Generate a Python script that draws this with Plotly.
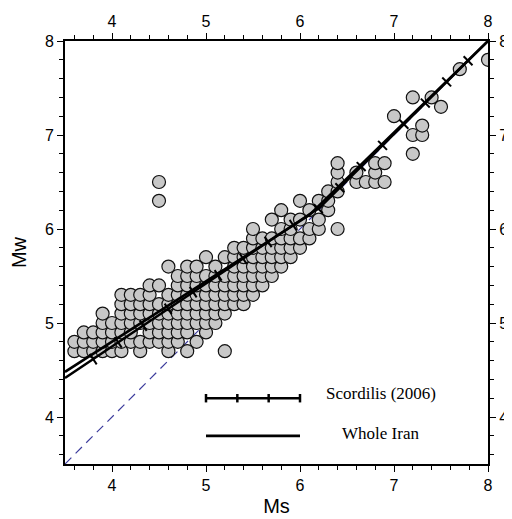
import numpy as np
import plotly.graph_objects as go

# ---- data (Mw rows, Ms values on each row) ----
mw_rows = [4.7, 4.8, 4.9, 5.0, 5.1, 5.2, 5.3, 5.4, 5.5, 5.6, 5.7, 5.8, 5.9,
           6.0, 6.1, 6.2, 6.3, 6.4, 6.5, 6.6, 6.7, 6.8, 7.0, 7.1, 7.2, 7.3,
           7.4, 7.7, 7.8]
ms_by_row = [
    [3.6, 3.7, 3.8, 3.9, 4.0, 4.1, 4.3, 4.6, 4.8, 5.2],
    [3.6, 3.7, 3.8, 3.9, 4.0, 4.1, 4.2, 4.3, 4.4, 4.5, 4.6, 4.7, 4.9],
    [3.7, 3.8, 3.9, 4.0, 4.1, 4.2, 4.4, 4.5, 4.6, 4.7, 4.8, 5.0],
    [3.9, 4.0, 4.1, 4.2, 4.3, 4.4, 4.5, 4.6, 4.7, 4.8, 4.9, 5.0, 5.1],
    [3.9, 4.1, 4.2, 4.3, 4.4, 4.5, 4.6, 4.7, 4.8, 4.9, 5.0, 5.1, 5.2],
    [4.1, 4.2, 4.3, 4.4, 4.5, 4.6, 4.7, 4.8, 4.9, 5.0, 5.1, 5.2, 5.3, 5.4],
    [4.1, 4.2, 4.3, 4.4, 4.6, 4.7, 4.8, 4.9, 5.0, 5.1, 5.2, 5.3, 5.4, 5.5],
    [4.4, 4.5, 4.7, 4.8, 4.9, 5.0, 5.1, 5.2, 5.3, 5.4, 5.5, 5.6],
    [4.7, 4.8, 4.9, 5.0, 5.1, 5.2, 5.3, 5.4, 5.5, 5.6, 5.7],
    [4.6, 4.8, 4.9, 5.1, 5.3, 5.4, 5.5, 5.6, 5.7, 5.8],
    [5.0, 5.2, 5.3, 5.4, 5.5, 5.6, 5.7, 5.8, 5.9],
    [5.3, 5.4, 5.5, 5.6, 5.7, 5.8, 5.9, 6.0],
    [5.5, 5.6, 5.7, 5.8, 5.9, 6.0, 6.1],
    [5.5, 5.8, 5.9, 6.1, 6.2, 6.4],
    [5.7, 5.9, 6.0, 6.2],
    [5.8, 6.1, 6.3],
    [4.5, 6.0, 6.2, 6.3],
    [6.3, 6.4],
    [4.5, 6.4, 6.6, 6.7, 6.8, 6.9],
    [6.4, 6.6, 6.8],
    [6.4, 6.8, 6.9],
    [7.2],
    [7.2, 7.3],
    [7.3],
    [7.0],
    [7.5],
    [7.2, 7.4],
    [7.7],
    [8.0],
]

# Scordilis (2006) relation: slope, intercept, Ms range
scordilis_slope = [0.67, 0.99]
scordilis_intercept = [2.07, 0.08]
scordilis_ms_min = [3.5, 6.2]
scordilis_ms_max = [6.1, 8.0]

# Whole Iran relation
whole_iran_ms = [3.5, 6.1, 8.0]
whole_iran_mw = [4.48, 6.15, 8.0]

# 1:1 line
one_to_one = [3.5, 8.0]

ticks_major = [4, 5, 6, 7, 8]

# ---- build arrays ----
pts_x, pts_y = [], []
for mw, row in zip(mw_rows, ms_by_row):
    for ms in row:
        pts_x.append(ms)
        pts_y.append(mw)

sc_x, sc_y = [], []
for a, b, lo, hi in zip(scordilis_slope, scordilis_intercept,
                        scordilis_ms_min, scordilis_ms_max):
    xs = np.linspace(lo, hi, 60)
    sc_x.extend(xs.tolist())
    sc_y.extend((a * xs + b).tolist())
sc_x = np.array(sc_x)
sc_y = np.array(sc_y)

# decoration ticks at a regular distance along the Scordilis line
seg = np.hypot(np.diff(sc_x), np.diff(sc_y))
s = np.concatenate([[0.0], np.cumsum(seg)])
s_start = np.interp(3.8, sc_x, s)
tick_s = np.arange(s_start, s[-1], 0.32)
tick_x = np.interp(tick_s, s, sc_x)
tick_y = np.interp(tick_s, s, sc_y)
tick_slope = np.where(tick_x < 6.15, scordilis_slope[0], scordilis_slope[1])
tick_angle = -np.degrees(np.arctan(tick_slope))

fig = go.Figure()

fig.add_trace(go.Scatter(
    x=one_to_one, y=one_to_one, mode="lines",
    line=dict(color="#3c3c9c", width=1.2, dash="9px,6px"),
    showlegend=False, hoverinfo="skip"))

fig.add_trace(go.Scatter(
    x=pts_x, y=pts_y, mode="markers",
    marker=dict(size=13, color="#c8c8c8", line=dict(color="#111111", width=1.2)),
    showlegend=False))

fig.add_trace(go.Scatter(
    x=whole_iran_ms, y=whole_iran_mw, mode="lines",
    line=dict(color="black", width=2.6), showlegend=False))

fig.add_trace(go.Scatter(
    x=sc_x, y=sc_y, mode="lines",
    line=dict(color="black", width=2.4), showlegend=False))

fig.add_trace(go.Scatter(
    x=tick_x, y=tick_y, mode="markers",
    marker=dict(symbol="line-ns", size=9, angle=tick_angle,
                line=dict(color="black", width=2)),
    showlegend=False, hoverinfo="skip"))

# dummy trace for the top / right axes
fig.add_trace(go.Scatter(x=[3.5], y=[3.5], xaxis="x2", yaxis="y2",
                         mode="markers", marker=dict(opacity=0),
                         showlegend=False, hoverinfo="skip"))

# ---- hand-drawn legend ----
leg_x0, leg_x1 = 5.0, 6.0
leg_y_sc, leg_y_wi = 4.2, 3.8
shapes = [
    dict(type="line", xref="x", yref="y", x0=leg_x0, x1=leg_x1,
         y0=leg_y_sc, y1=leg_y_sc, line=dict(color="black", width=2.5)),
    dict(type="line", xref="x", yref="y", x0=leg_x0, x1=leg_x1,
         y0=leg_y_wi, y1=leg_y_wi, line=dict(color="black", width=2.8)),
]
for k in range(4):
    xk = leg_x0 + k * (leg_x1 - leg_x0) / 3
    shapes.append(dict(type="line", xref="x", yref="y", x0=xk, x1=xk,
                       y0=leg_y_sc - 0.045, y1=leg_y_sc + 0.045,
                       line=dict(color="black", width=2.5)))

annotations = [
    dict(x=6.86, y=4.245, xref="x", yref="y", text="Scordilis (2006)",
         showarrow=False, font=dict(family="Liberation Serif, Times New Roman, serif",
                                    size=17, color="black")),
    dict(x=6.86, y=3.82, xref="x", yref="y", text="Whole Iran",
         showarrow=False, font=dict(family="Liberation Serif, Times New Roman, serif",
                                    size=17, color="black")),
]

axis_common = dict(
    range=[3.5, 8], tickvals=ticks_major, ticks="outside", ticklen=6,
    tickwidth=1.3, tickcolor="black", automargin=False,
    minor=dict(dtick=0.2, ticks="outside", ticklen=4, tickwidth=1, tickcolor="black"),
    showline=True, linewidth=2, linecolor="black", showgrid=False,
    zeroline=False, tickfont=dict(size=16, color="black"),
)

fig.update_layout(
    width=512, height=519,
    margin=dict(l=57, r=32, t=33, b=63),
    plot_bgcolor="white", paper_bgcolor="white",
    font=dict(family="Liberation Sans, Arial, sans-serif", color="black"),
    xaxis=dict(**axis_common, title=dict(text="Ms", font=dict(size=20), standoff=6)),
    yaxis=dict(**axis_common, title=dict(text="Mw", font=dict(size=20), standoff=14)),
    xaxis2=dict(**axis_common, overlaying="x", side="top", matches="x"),
    yaxis2=dict(**axis_common, overlaying="y", side="right", matches="y"),
    shapes=shapes, annotations=annotations,
)

fig.write_html("out.html")
